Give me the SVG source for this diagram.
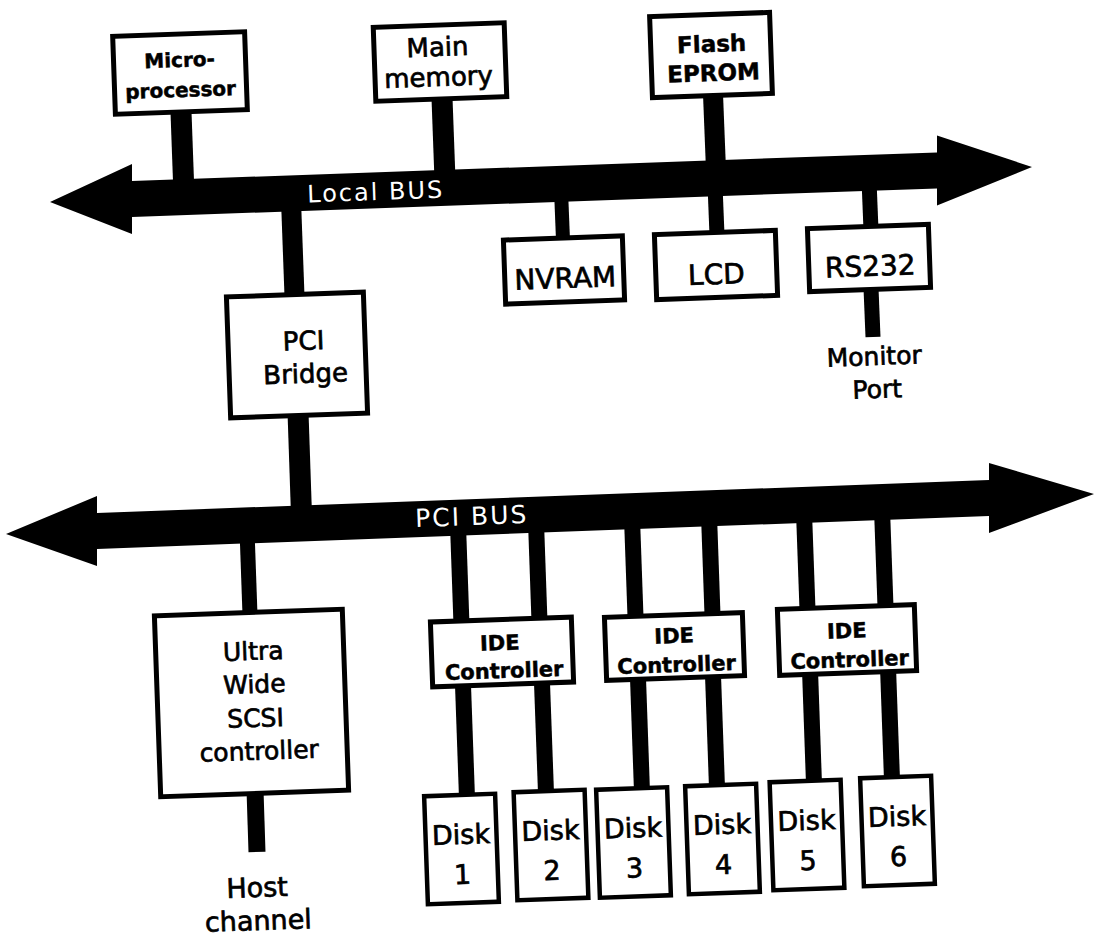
<svg xmlns="http://www.w3.org/2000/svg" width="1095" height="951" viewBox="0 0 1095 951">
<style>
.box{fill:#fff;stroke:#000;stroke-width:5}
.dbox{fill:#fff;stroke:#000;stroke-width:4.5}
.t{font-family:"DejaVu Sans","Liberation Sans",sans-serif;fill:#000;stroke:#000;stroke-width:0.7;text-anchor:middle}
.b{font-weight:bold;stroke-width:0.5}
.bus{fill:#000}
.bl{font-family:"DejaVu Sans","Liberation Sans",sans-serif;fill:#fff;text-anchor:middle;letter-spacing:2px}
.s{stroke:#000;fill:none;stroke-linecap:butt}
</style>
<rect width="1095" height="951" fill="#fff"/>
<g id="connectors">
<line class="s" stroke-width="21" x1="181" y1="112" x2="184" y2="195"/>
<line class="s" stroke-width="21" x1="442" y1="98" x2="445" y2="180"/>
<line class="s" stroke-width="20" x1="713" y1="94" x2="716" y2="170"/>
<line class="s" stroke-width="20" x1="291" y1="200" x2="294.5" y2="296"/>
<line class="s" stroke-width="14" x1="561" y1="190" x2="563" y2="240"/>
<line class="s" stroke-width="15" x1="715" y1="185" x2="717" y2="235"/>
<line class="s" stroke-width="15" x1="869" y1="180" x2="871" y2="230"/>
<line class="s" stroke-width="15" x1="871" y1="288" x2="873" y2="337"/>
<line class="s" stroke-width="21" x1="298" y1="412" x2="301.5" y2="515"/>
<line class="s" stroke-width="15" x1="247" y1="530" x2="250" y2="615"/>
<line class="s" stroke-width="17" x1="255" y1="790" x2="257" y2="852"/>
<line class="s" stroke-width="16" x1="458" y1="525" x2="461.5" y2="625"/>
<line class="s" stroke-width="16" x1="536" y1="522" x2="539.5" y2="622"/>
<line class="s" stroke-width="16" x1="632" y1="518" x2="635.5" y2="617"/>
<line class="s" stroke-width="16" x1="709" y1="515" x2="712.5" y2="615"/>
<line class="s" stroke-width="16" x1="804" y1="512" x2="807.5" y2="610"/>
<line class="s" stroke-width="16" x1="882" y1="509" x2="885.5" y2="607"/>
<line class="s" stroke-width="16" x1="463" y1="685" x2="467" y2="798"/>
<line class="s" stroke-width="16" x1="542" y1="683" x2="546" y2="793"/>
<line class="s" stroke-width="16" x1="638" y1="678" x2="642" y2="792"/>
<line class="s" stroke-width="16" x1="713" y1="675" x2="717" y2="788"/>
<line class="s" stroke-width="16" x1="810" y1="670" x2="814" y2="784"/>
<line class="s" stroke-width="16" x1="888" y1="667" x2="892" y2="780"/>
</g>
<g id="local-bus">
<polygon class="bus" points="50,202 132,164 132,181 937,152.4 937,135.4 1032,167 937,205.4 937,188.4 132,217 132,234"/>
<text class="bl" x="376" y="200" font-size="24" transform="rotate(-2 376 200)">Local BUS</text>
</g>
<g id="pci-bus">
<polygon class="bus" points="6,534 97,496 97,513 989,480 989,463 1094,494 989,533 989,516 97,549 97,566"/>
<text class="bl" x="472" y="525" font-size="25" transform="rotate(-2.1 472 525)">PCI BUS</text>
</g>
<g id="microprocessor" transform="rotate(-2 180 73)">
<rect class="box" x="114" y="34" width="132" height="78"/>
<text class="t b" x="180" y="67" font-size="20">Micro-</text>
<text class="t b" x="180" y="97" font-size="20">processor</text>
</g>
<g id="main-memory" transform="rotate(-2 440 62)">
<rect class="box" x="374.5" y="25" width="131" height="74"/>
<text class="t" x="438" y="56" font-size="26">Main</text>
<text class="t" x="438" y="86" font-size="26">memory</text>
</g>
<g id="flash-eprom" transform="rotate(-2 711 55)">
<rect class="box" x="651" y="14.5" width="120" height="81"/>
<text class="t b" x="712" y="52" font-size="23">Flash</text>
<text class="t b" x="713" y="81" font-size="23">EPROM</text>
</g>
<g id="nvram" transform="rotate(-2 564 270)">
<rect class="box" x="504.5" y="238" width="119" height="64"/>
<text class="t" x="565" y="288" font-size="28">NVRAM</text>
</g>
<g id="lcd" transform="rotate(-2 716 265)">
<rect class="box" x="655.5" y="232.5" width="121" height="65"/>
<text class="t" x="716" y="284" font-size="28">LCD</text>
</g>
<g id="rs232" transform="rotate(-2 869 258)">
<rect class="box" x="808.5" y="226.5" width="121" height="63"/>
<text class="t" x="870" y="276" font-size="28">RS232</text>
</g>
<g id="monitor-port" transform="rotate(-2 876 380)">
<text class="t" x="875" y="365" font-size="25">Monitor</text>
<text class="t" x="877" y="398" font-size="25">Port</text>
</g>
<g id="pci-bridge" transform="rotate(-2 297 355)">
<rect class="box" x="228.5" y="294.5" width="137" height="121"/>
<text class="t" x="304" y="350" font-size="26">PCI</text>
<text class="t" x="305" y="383" font-size="26">Bridge</text>
</g>
<g id="scsi-controller" transform="rotate(-2 251.5 703)">
<rect class="box" x="157.5" y="612.5" width="188" height="181"/>
<text class="t" x="255" y="660" font-size="25">Ultra</text>
<text class="t" x="255" y="693" font-size="25">Wide</text>
<text class="t" x="255" y="727" font-size="25">SCSI</text>
<text class="t" x="257.5" y="760" font-size="25">controller</text>
</g>
<g id="host-channel" transform="rotate(-2 258 912)">
<text class="t" x="258" y="897" font-size="27">Host</text>
<text class="t" x="258" y="930" font-size="27">channel</text>
</g>
<g id="ide1" transform="rotate(-2 502 652)">
<rect class="box" x="431.5" y="619.5" width="141" height="65"/>
<text class="t b" x="500" y="650" font-size="21">IDE</text>
<text class="t b" x="503.5" y="678" font-size="21">Controller</text>
</g>
<g id="ide2" transform="rotate(-2 674.5 646.5)">
<rect class="box" x="605.5" y="615" width="138" height="63"/>
<text class="t b" x="674.5" y="643" font-size="21">IDE</text>
<text class="t b" x="676" y="672" font-size="21">Controller</text>
</g>
<g id="ide3" transform="rotate(-2 847 640)">
<rect class="box" x="778.5" y="607" width="137" height="66"/>
<text class="t b" x="847" y="638" font-size="21">IDE</text>
<text class="t b" x="849" y="667" font-size="21">Controller</text>
</g>
<g id="disk1" transform="rotate(-2 461.5 849)">
<rect class="dbox" x="426" y="795" width="71" height="108"/>
<text class="t" x="461.5" y="844" font-size="27">Disk</text>
<text class="t" x="461.5" y="884" font-size="27">1</text>
</g>
<g id="disk2" transform="rotate(-2 551 845)">
<rect class="dbox" x="515.5" y="791" width="71" height="108"/>
<text class="t" x="551" y="840" font-size="27">Disk</text>
<text class="t" x="551" y="880" font-size="27">2</text>
</g>
<g id="disk3" transform="rotate(-2 633.5 842.5)">
<rect class="dbox" x="598" y="788.5" width="71" height="108"/>
<text class="t" x="633.5" y="837.5" font-size="27">Disk</text>
<text class="t" x="633.5" y="877.5" font-size="27">3</text>
</g>
<g id="disk4" transform="rotate(-2 722.5 839)">
<rect class="dbox" x="687" y="785" width="71" height="108"/>
<text class="t" x="722.5" y="834" font-size="27">Disk</text>
<text class="t" x="722.5" y="874" font-size="27">4</text>
</g>
<g id="disk5" transform="rotate(-2 807 835)">
<rect class="dbox" x="771.5" y="781" width="71" height="108"/>
<text class="t" x="807" y="830" font-size="27">Disk</text>
<text class="t" x="807" y="870" font-size="27">5</text>
</g>
<g id="disk6" transform="rotate(-2 897.5 831)">
<rect class="dbox" x="862" y="777" width="71" height="108"/>
<text class="t" x="897.5" y="826" font-size="27">Disk</text>
<text class="t" x="897.5" y="866" font-size="27">6</text>
</g>
</svg>
